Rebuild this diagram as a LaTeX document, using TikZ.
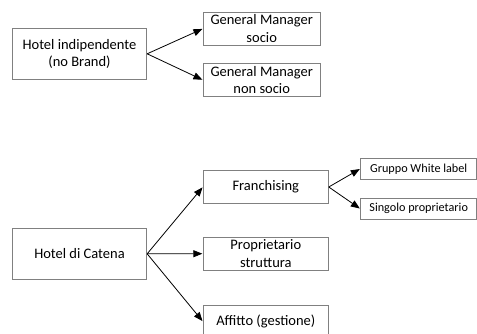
\documentclass[tikz,border=0pt]{standalone}
\usepackage{fontspec}
\setmainfont{Carlito}
\usetikzlibrary{arrows.meta}
\begin{document}
\begin{tikzpicture}[x=1pt,y=-1pt,
  box/.style={draw=black!50,line width=0.9pt,fill=white,align=center,inner sep=0pt,
    font=\fontsize{14.5}{17.6}\selectfont},
  smallbox/.style={box,font=\fontsize{12.2}{14.6}\selectfont},
  link/.style={draw=black,line width=0.8pt,-{Triangle[length=9pt,width=7pt]},shorten >=0.5pt}]
\clip (0,0) rectangle (477,334);
\useasboundingbox (0,0) rectangle (477,334);

% independent hotel branch
\node[box,minimum width=134.4pt,minimum height=51pt] (ind) at (79.5,53.8) {Hotel indipendente\\(no Brand)};
\node[box,minimum width=116.7pt,minimum height=32.7pt] (gms) at (261.7,28.7) {General Manager\\socio};
\node[box,minimum width=116.7pt,minimum height=33.4pt] (gmn) at (261.7,80) {General Manager\\non socio};

% chain hotel branch
\node[box,minimum width=134.4pt,minimum height=51pt] (cat) at (79.5,253.8) {Hotel di Catena};
\node[box,minimum width=125pt,minimum height=32.6pt] (fr) at (265.8,187) {Franchising};
\node[box,minimum width=125pt,minimum height=32.7pt] (pr) at (265.8,253.7) {Proprietario\\struttura};
\node[box,minimum width=125pt,minimum height=33pt] (af) at (265.8,321.5) {Affitto (gestione)};
\node[smallbox,minimum width=116pt,minimum height=21pt] (wl) at (418.7,168.8) {Gruppo White label};
\node[smallbox,minimum width=116pt,minimum height=21pt] (sp) at (418.7,208.8) {Singolo proprietario};

% connectors
\draw[link] (ind.east) -- (gms.west);
\draw[link] (ind.east) -- (gmn.west);
\draw[link] (cat.east) -- (fr.west);
\draw[link] (cat.east) -- (pr.west);
\draw[link] (cat.east) -- (af.west);
\draw[link] (fr.east) -- (wl.west);
\draw[link] (fr.east) -- (sp.west);
\end{tikzpicture}
\end{document}
